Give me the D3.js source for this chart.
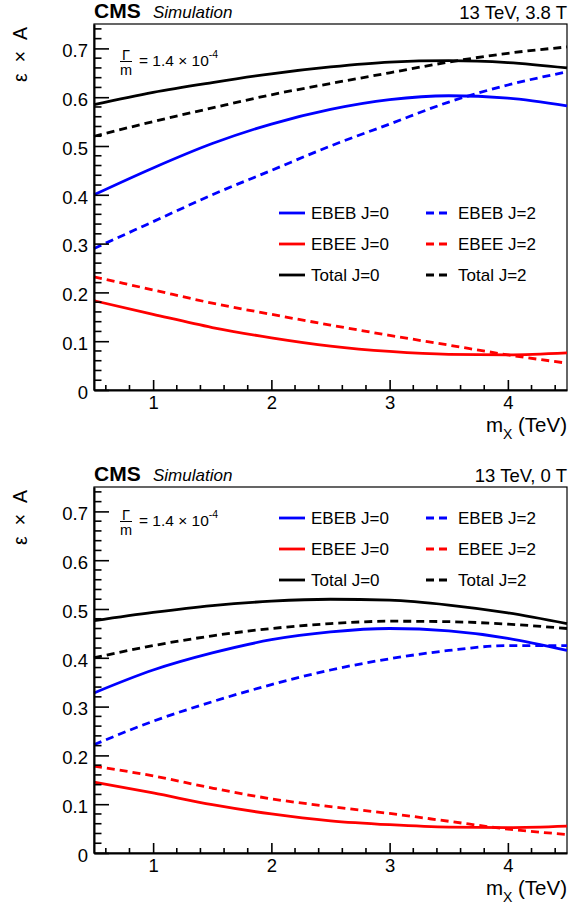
<!DOCTYPE html>
<html>
<head>
<meta charset="utf-8">
<script src="https://cdn.jsdelivr.net/npm/d3@7"></script>
<style>
    body { margin: 0; background: #fff; }
    svg { font-family: "Liberation Sans", Arial, sans-serif; }
</style>
</head>
<body>
<svg id="chart" width="570" height="906"></svg>
<script>
"use strict";

const massPoints = [0.5, 1.0, 1.5, 2.0, 2.5, 3.0, 3.5, 4.0, 4.5];

// 13 TeV, 3.8 T
const ebebJ0Field = [0.400, 0.455, 0.505, 0.545, 0.575, 0.595, 0.603, 0.598, 0.582];
const ebebJ2Field = [0.290, 0.345, 0.400, 0.450, 0.500, 0.545, 0.590, 0.625, 0.652];
const ebeeJ0Field = [0.183, 0.155, 0.128, 0.107, 0.090, 0.079, 0.073, 0.072, 0.076];
const ebeeJ2Field = [0.232, 0.205, 0.178, 0.155, 0.133, 0.112, 0.092, 0.072, 0.055];
const totalJ0Field = [0.585, 0.610, 0.630, 0.648, 0.662, 0.672, 0.675, 0.671, 0.660];
const totalJ2Field = [0.520, 0.550, 0.578, 0.605, 0.628, 0.650, 0.672, 0.690, 0.703];

// 13 TeV, 0 T
const ebebJ0NoField = [0.328, 0.375, 0.410, 0.437, 0.453, 0.460, 0.455, 0.440, 0.415];
const ebebJ2NoField = [0.222, 0.270, 0.310, 0.345, 0.375, 0.398, 0.415, 0.425, 0.425];
const ebeeJ0NoField = [0.145, 0.123, 0.099, 0.080, 0.066, 0.058, 0.053, 0.052, 0.055];
const ebeeJ2NoField = [0.178, 0.158, 0.133, 0.111, 0.095, 0.081, 0.065, 0.049, 0.038];
const totalJ0NoField = [0.476, 0.493, 0.507, 0.516, 0.520, 0.518, 0.508, 0.492, 0.470];
const totalJ2NoField = [0.400, 0.425, 0.445, 0.460, 0.470, 0.475, 0.474, 0.469, 0.460];

const seriesNames = ['EBEB J=0', 'EBEB J=2', 'EBEE J=0', 'EBEE J=2', 'Total J=0', 'Total J=2'];
const seriesColors = ['#0000ff', '#0000ff', '#ff0000', '#ff0000', '#000000', '#000000'];
const seriesDashed = [false, true, false, true, false, true];

const panelLabels = ['13 TeV, 3.8 T', '13 TeV, 0 T'];
const panelSeries = [
    [ebebJ0Field, ebebJ2Field, ebeeJ0Field, ebeeJ2Field, totalJ0Field, totalJ2Field],
    [ebebJ0NoField, ebebJ2NoField, ebeeJ0NoField, ebeeJ2NoField, totalJ0NoField, totalJ2NoField],
];

const xMajorTicks = [1, 2, 3, 4];
const yMajorTicks = [0, 0.1, 0.2, 0.3, 0.4, 0.5, 0.6, 0.7];


const LEFT = 94;
const RIGHT = 567;
const PANEL_HEIGHT = 366;
const PANEL_TOPS = [24, 487];
const LEGEND_TOPS = [213, 518];   // y of the first legend row
const GAMMA_OFFSETS = [37.5, 34.5]; // fraction bar below the panel top
const LEGEND_GAP = 31;
const DASH = '8,5';
const LINE_WIDTH = 2.8;

const svg = d3.select('#chart');

const x = d3.scaleLinear().domain([0.5, 4.5]).range([LEFT, RIGHT]);

// minor ticks: 0.2 TeV on x, 0.02 on y
const xMinorTicks = d3.range(6, 45, 2).map(v => v / 10).filter(v => !xMajorTicks.includes(v));
const yMinorTicks = d3.range(2, 75, 2).map(v => v / 100).filter(v => Math.round(v * 100) % 10 !== 0);

function drawPanel(index) {
    const top = PANEL_TOPS[index];
    const bottom = top + PANEL_HEIGHT;
    const y = d3.scaleLinear().domain([0, 0.75]).range([bottom, top]);
    const g = svg.append('g');

    // frame
    g.append('rect')
        .attr('x', LEFT).attr('y', top)
        .attr('width', RIGHT - LEFT).attr('height', PANEL_HEIGHT)
        .attr('fill', 'none').attr('stroke', '#000').attr('stroke-width', 1.2);

    // curves
    const line = d3.line()
        .x(d => x(d[0]))
        .y(d => y(d[1]))
        .curve(d3.curveMonotoneX);
    panelSeries[index].forEach((values, i) => {
        g.append('path')
            .datum(massPoints.map((m, k) => [m, values[k]]))
            .attr('d', line)
            .attr('fill', 'none')
            .attr('stroke', seriesColors[i])
            .attr('stroke-width', LINE_WIDTH)
            .attr('stroke-dasharray', seriesDashed[i] ? DASH : null);
    });

    // x axis
    const xAxis = d3.axisBottom(x).tickValues(xMajorTicks).tickSizeInner(-10).tickSizeOuter(0)
        .tickPadding(6).tickFormat(d3.format('d'));
    const xAxisGroup = g.append('g').attr('transform', `translate(0,${bottom})`).call(xAxis);
    xAxisGroup.append('g').selectAll('line').data(xMinorTicks).join('line')
        .attr('x1', d => x(d)).attr('x2', d => x(d)).attr('y1', 0).attr('y2', -5);

    // y axis
    const yAxis = d3.axisLeft(y).tickValues(yMajorTicks).tickSizeInner(-15).tickSizeOuter(0)
        .tickPadding(6).tickFormat(d => d === 0 ? '0' : d3.format('.1f')(d));
    const yAxisGroup = g.append('g').attr('transform', `translate(${LEFT},0)`).call(yAxis);
    yAxisGroup.append('g').selectAll('line').data(yMinorTicks).join('line')
        .attr('x1', 0).attr('x2', 7.5).attr('y1', d => y(d)).attr('y2', d => y(d));
    yAxisGroup.selectAll('.tick text').attr('dy', '0.45em');

    for (const axisGroup of [xAxisGroup, yAxisGroup]) {
        axisGroup.selectAll('line').attr('stroke', '#000').attr('stroke-width', 1.6);
        axisGroup.select('.domain').attr('stroke', '#000').attr('stroke-width', 2);
        axisGroup.selectAll('text').attr('font-size', 18.5).attr('fill', '#000')
            .attr('font-family', '"Liberation Sans", Arial, sans-serif');
    }

    // axis titles
    g.append('text')
        .attr('transform', `translate(27,${top + 3}) rotate(-90)`)
        .attr('text-anchor', 'end')
        .attr('font-size', 19.5)
        .attr('textLength', 55)
        .attr('lengthAdjust', 'spacing')
        .text('ε × A');
    const xTitle = g.append('text')
        .attr('x', RIGHT).attr('y', bottom + 42)
        .attr('text-anchor', 'end')
        .attr('font-size', 20.5);
    xTitle.append('tspan').text('m');
    xTitle.append('tspan').attr('font-size', 14).attr('dy', 7).text('X');
    xTitle.append('tspan').attr('dy', -7).text(' (TeV)');

    // header
    g.append('text').attr('x', LEFT).attr('y', top - 6.5)
        .attr('font-size', 21).attr('font-weight', 'bold').text('CMS');
    g.append('text').attr('x', 153).attr('y', top - 6.5)
        .attr('font-size', 17).attr('font-style', 'italic').text('Simulation');
    g.append('text').attr('x', RIGHT).attr('y', top - 5)
        .attr('text-anchor', 'end').attr('font-size', 18.5).text(panelLabels[index]);

    // width over mass
    const gammaY = top + GAMMA_OFFSETS[index];
    g.append('text').attr('x', 126).attr('y', gammaY - 2)
        .attr('text-anchor', 'middle').attr('font-size', 14.5).text('Γ');
    g.append('line').attr('x1', 120).attr('x2', 132).attr('y1', gammaY).attr('y2', gammaY)
        .attr('stroke', '#000').attr('stroke-width', 1);
    g.append('text').attr('x', 126).attr('y', gammaY + 13.5)
        .attr('text-anchor', 'middle').attr('font-size', 14.5).text('m');
    const gammaText = g.append('text').attr('x', 139).attr('y', gammaY + 4.5).attr('font-size', 15.5);
    gammaText.append('tspan').text('= 1.4 × 10');
    gammaText.append('tspan').attr('font-size', 10.5).attr('dy', -8).text('-4');

    // legend
    seriesNames.forEach((name, i) => {
        const column = i % 2;
        const row = Math.floor(i / 2);
        const rowY = LEGEND_TOPS[index] + row * LEGEND_GAP;
        const x0 = column === 0 ? 279 : 426;
        g.append('line')
            .attr('x1', x0).attr('x2', x0 + 26).attr('y1', rowY).attr('y2', rowY)
            .attr('stroke', seriesColors[i]).attr('stroke-width', LINE_WIDTH)
            .attr('stroke-dasharray', seriesDashed[i] ? DASH : null);
        g.append('text')
            .attr('x', x0 + 32).attr('y', rowY + 6)
            .attr('font-size', 17)
            .text(name);
    });
}

drawPanel(0);
drawPanel(1);
</script>
</body>
</html>
